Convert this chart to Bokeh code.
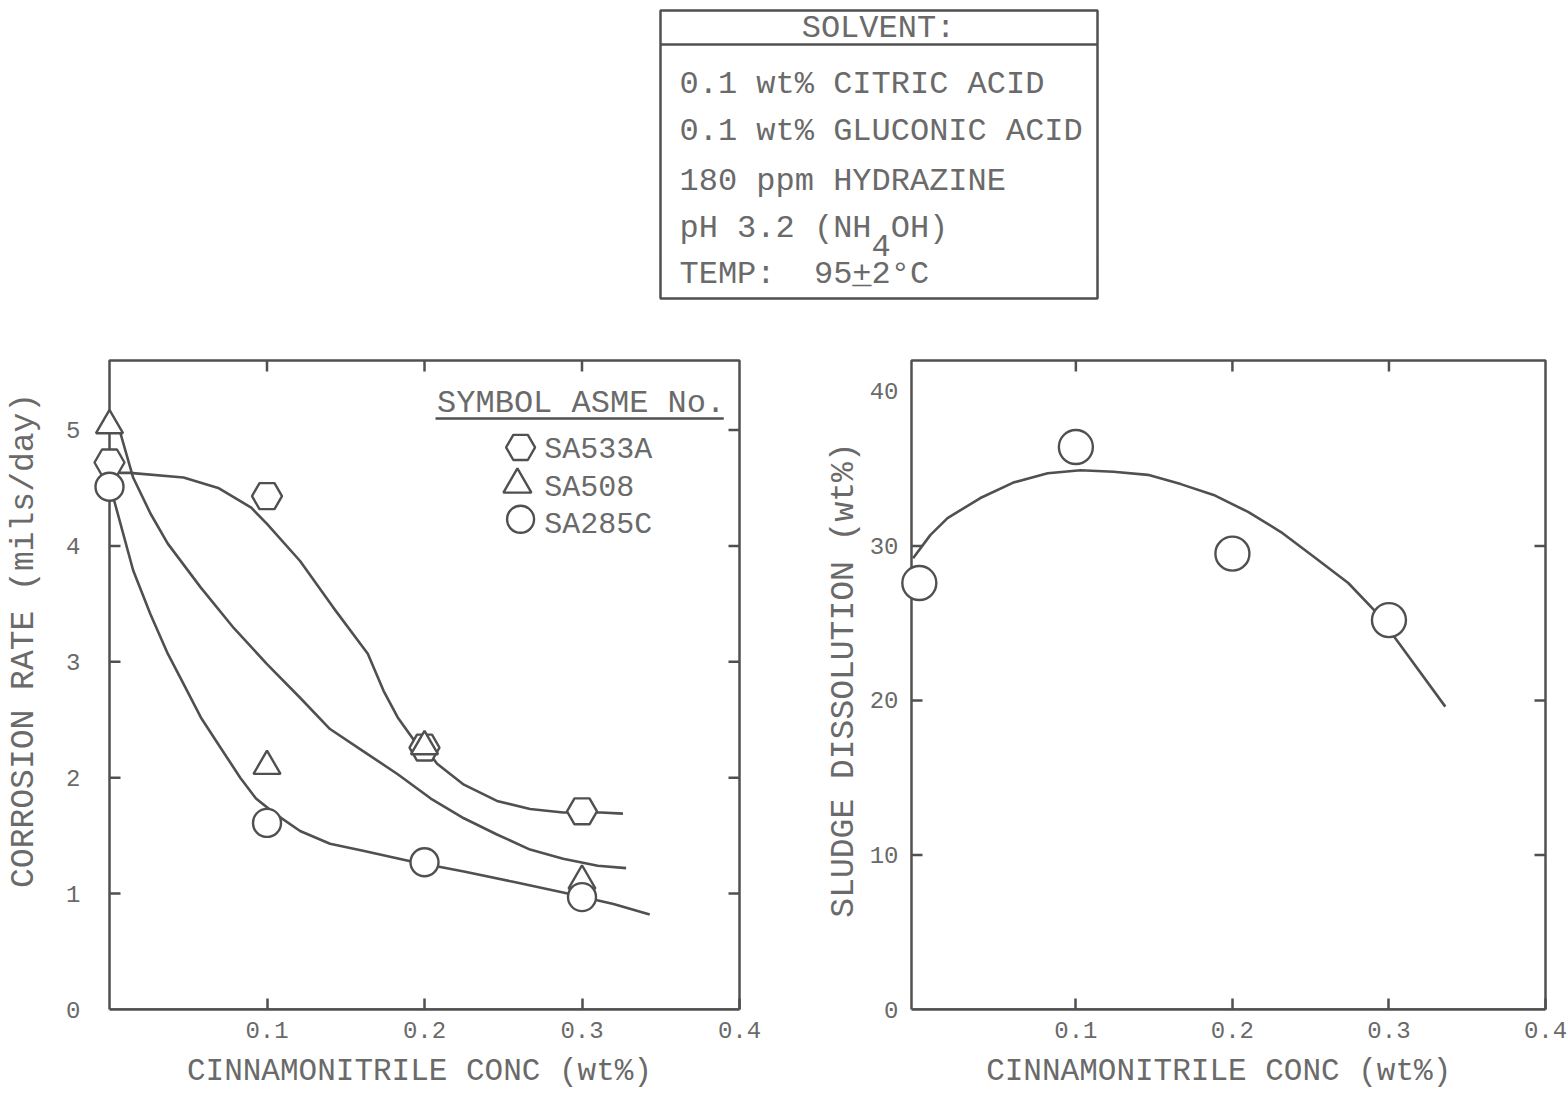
from math import pi

from bokeh.plotting import figure
from bokeh.layouts import column, row
from bokeh.models import Range1d, FixedTicker
from bokeh.core.properties import value
from bokeh.embed import file_html
from bokeh.resources import INLINE

FONT = "Liberation Mono"
INK = "#505050"
TEXT = "#6a6a6a"
NB = "\u00a0"

# ---------------- corrosion data (mils/day) ----------------
conc = [0.0, 0.1, 0.2, 0.3]
sa533a_rate = [4.72, 4.43, 2.26, 1.71]
sa508_rate = [5.04, 2.10, 2.27, 1.11]
sa285c_rate = [4.51, 1.61, 1.27, 0.97]

# hand-fitted trend curves
sa533a_fit_x = [0.0, 0.013, 0.047, 0.069, 0.090, 0.100, 0.121, 0.142, 0.164, 0.174,
                0.183, 0.193, 0.201, 0.208, 0.225, 0.246, 0.267, 0.288, 0.312, 0.326]
sa533a_fit_y = [4.63, 4.63, 4.59, 4.50, 4.33, 4.19, 3.87, 3.47, 3.07, 2.75,
                2.52, 2.33, 2.25, 2.12, 1.94, 1.80, 1.73, 1.70, 1.70, 1.69]

sa508_fit_x = [0.007, 0.015, 0.026, 0.037, 0.058, 0.079, 0.100, 0.121, 0.140, 0.161,
               0.183, 0.204, 0.225, 0.246, 0.267, 0.288, 0.310, 0.328]
sa508_fit_y = [4.97, 4.59, 4.28, 4.02, 3.64, 3.29, 2.98, 2.69, 2.42, 2.23,
               2.03, 1.82, 1.65, 1.51, 1.38, 1.30, 1.24, 1.22]

sa285c_fit_x = [0.003, 0.015, 0.026, 0.037, 0.047, 0.058, 0.070, 0.083, 0.093, 0.105,
                0.121, 0.140, 0.161, 0.191, 0.225, 0.257, 0.288, 0.320, 0.343]
sa285c_fit_y = [4.39, 3.79, 3.41, 3.07, 2.81, 2.52, 2.27, 2.00, 1.82, 1.69,
                1.54, 1.43, 1.37, 1.28, 1.19, 1.10, 1.01, 0.91, 0.82]

# ---------------- sludge dissolution data (wt%) ----------------
sludge_conc = [0.0, 0.1, 0.2, 0.3]
sludge_pct = [27.6, 36.4, 29.5, 25.2]
sludge_fit_x = [-0.004, 0.007, 0.018, 0.039, 0.060, 0.082, 0.103, 0.124, 0.146, 0.167,
                0.188, 0.210, 0.231, 0.252, 0.274, 0.291, 0.305, 0.336]
sludge_fit_y = [29.2, 30.7, 31.8, 33.1, 34.1, 34.7, 34.9, 34.8, 34.6, 34.0,
                33.3, 32.2, 30.9, 29.3, 27.6, 25.8, 23.9, 19.6]

x_ticks = [0.1, 0.2, 0.3, 0.4]
rate_ticks = [0, 1, 2, 3, 4, 5]
sludge_ticks = [0, 10, 20, 30, 40]

solvent_lines = ["0.1 wt% CITRIC ACID", "0.1 wt% GLUCONIC ACID", "180 ppm HYDRAZINE"]


def padded(lo, hi, span_px, pad_lo_px, pad_hi_px):
    """Range with a few pixels of room so edge markers are not cut off."""
    unit = (hi - lo) / span_px
    return Range1d(lo - pad_lo_px * unit, hi + pad_hi_px * unit)


def build_frame(p, x0, x1, y1, left_ticks, right_ticks, top_ticks):
    """Box from (x0, 0) to (x1, y1) with inward tick marks on all four sides."""
    xa, ya = p.below[0], p.left[0]
    xa.bounds = (x0, x1)
    xa.ticker = FixedTicker(ticks=x_ticks)
    xa.axis_line_color = INK
    xa.axis_line_width = 2.5
    xa.major_tick_line_color = INK
    xa.major_tick_line_width = 2.5
    xa.major_tick_in = 11
    xa.major_tick_out = 0
    xa.axis_label_text_font_size = "31px"
    ya.axis_line_color = None
    ya.major_tick_line_color = None
    ya.major_tick_in = 0
    ya.major_tick_out = 0
    ya.axis_label_text_font_size = "33px"
    for ax in (xa, ya):
        ax.minor_tick_line_color = None
        ax.major_label_text_font = FONT
        ax.major_label_text_font_size = "24px"
        ax.major_label_text_color = TEXT
        ax.axis_label_text_font = FONT
        ax.axis_label_text_font_style = "normal"
        ax.axis_label_text_color = TEXT
    p.quad(left=[x0], right=[x1], bottom=[0], top=[y1], fill_color=None,
           line_color=INK, line_width=2.5)
    tick = dict(length=11, length_units="screen", line_color=INK, line_width=2.5)
    p.ray(x=[x0] * len(left_ticks), y=left_ticks, angle=0, **tick)
    p.ray(x=[x1] * len(right_ticks), y=right_ticks, angle=pi, **tick)
    p.ray(x=top_ticks, y=[y1] * len(top_ticks), angle=-pi / 2, **tick)
    p.grid.visible = False
    p.outline_line_color = None
    p.background_fill_color = "white"
    p.border_fill_color = "white"


# ---------------- solvent box ----------------
p0 = figure(width=1567, height=320, x_range=Range1d(0, 1567), y_range=Range1d(320, 0),
            output_backend="svg", toolbar_location=None, min_border=0,
            x_axis_location=None, y_axis_location=None)
p0.grid.visible = False
p0.outline_line_color = None
p0.quad(left=[660], right=[1097], top=[10], bottom=[298], fill_color=None,
        line_color=INK, line_width=2.5)
p0.segment(x0=[660], y0=[44], x1=[1097], y1=[44], line_color=INK, line_width=2.5)
box_font = dict(text_font=value(FONT), text_font_size="32px", text_color=TEXT,
                text_baseline="middle")
pitch = 19.2
p0.text(x=[878], y=[28], text=["SOLVENT:"], text_align="center", **box_font)
p0.text(x=[679] * 3, y=[84, 131, 181], text=solvent_lines, text_align="left", **box_font)
p0.text(x=[679], y=[228], text=["pH 3.2 (NH"], text_align="left", **box_font)
p0.text(x=[679 + 10 * pitch], y=[245], text=["4"], text_align="left", **box_font)
p0.text(x=[679 + 11 * pitch], y=[228], text=["OH)"], text_align="left", **box_font)
p0.text(x=[679], y=[274], text=["TEMP:" + NB + NB + "95+2°C"], text_align="left", **box_font)
p0.text(x=[679 + 9 * pitch], y=[274], text=["_"], text_align="left", **box_font)

# ---------------- corrosion rate panel ----------------
p1 = figure(width=800, height=780,
            x_range=padded(0.0, 0.4, 630, 20, 10), y_range=padded(0.0, 5.6, 649, 0, 10),
            output_backend="svg", toolbar_location=None,
            min_border_left=89, min_border_right=51, min_border_top=30, min_border_bottom=91)
build_frame(p1, 0.0, 0.4, 5.6, [1, 2, 3, 4, 5], [1, 2, 3, 4, 5], [0.1, 0.2, 0.3])
p1.yaxis.ticker = FixedTicker(ticks=rate_ticks)
p1.xaxis.axis_label = "CINNAMONITRILE CONC (wt%)"
p1.yaxis.axis_label = NB * 4 + "CORROSION RATE (mils/day)"
p1.xaxis.major_label_standoff = 12
p1.xaxis.axis_label_standoff = 13
p1.yaxis.major_label_standoff = 9
p1.yaxis.axis_label_standoff = 20

for fx, fy in ((sa533a_fit_x, sa533a_fit_y), (sa508_fit_x, sa508_fit_y), (sa285c_fit_x, sa285c_fit_y)):
    p1.line(fx, fy, line_color=INK, line_width=2.6)

mk = dict(fill_color="white", line_color=INK, line_width=2.4)
p1.scatter(conc, sa533a_rate, marker="hex", size=30, **mk)
p1.scatter(conc, sa508_rate, marker="triangle", size=27, **mk)
p1.scatter(conc, sa285c_rate, marker="circle", size=28, **mk)

# symbol key
p1.text(x=[0.208], y=[5.23], text=["SYMBOL ASME No."], text_font=value(FONT),
        text_font_size="32px", text_color=TEXT, text_baseline="middle", text_align="left")
p1.segment(x0=[0.207], y0=[5.10], x1=[0.390], y1=[5.10], line_color=INK, line_width=2.5)
p1.scatter([0.261], [4.85], marker="hex", size=29, **mk)
p1.scatter([0.259], [4.53], marker="triangle", size=28, **mk)
p1.scatter([0.261], [4.23], marker="circle", size=27, **mk)
p1.text(x=[0.276, 0.276, 0.276], y=[4.83, 4.50, 4.18], text=["SA533A", "SA508", "SA285C"],
        text_font=value(FONT), text_font_size="30px", text_color=TEXT,
        text_baseline="middle", text_align="left")

# ---------------- sludge dissolution panel ----------------
p2 = figure(width=767, height=780,
            x_range=padded(-0.005, 0.4, 634, 11, 10), y_range=padded(0.0, 42.0, 649, 0, 10),
            output_backend="svg", toolbar_location=None,
            min_border_left=100, min_border_right=12, min_border_top=30, min_border_bottom=91)
build_frame(p2, -0.005, 0.4, 42.0, [10, 20, 30], [10, 20, 30], [0.1, 0.2, 0.3])
p2.yaxis.ticker = FixedTicker(ticks=sludge_ticks)
p2.xaxis.axis_label = "CINNAMONITRILE CONC (wt%)" + NB
p2.yaxis.axis_label = "SLUDGE DISSOLUTION (wt%)"
p2.xaxis.major_label_standoff = 12
p2.xaxis.axis_label_standoff = 13
p2.yaxis.major_label_standoff = 2
p2.yaxis.axis_label_standoff = 4

p2.line(sludge_fit_x, sludge_fit_y, line_color=INK, line_width=2.6)
p2.scatter(sludge_conc, sludge_pct, marker="circle", size=34, **mk)

layout = column(p0, row(p1, p2, spacing=0), spacing=0)
open("out.html", "w").write(file_html(layout, INLINE))
